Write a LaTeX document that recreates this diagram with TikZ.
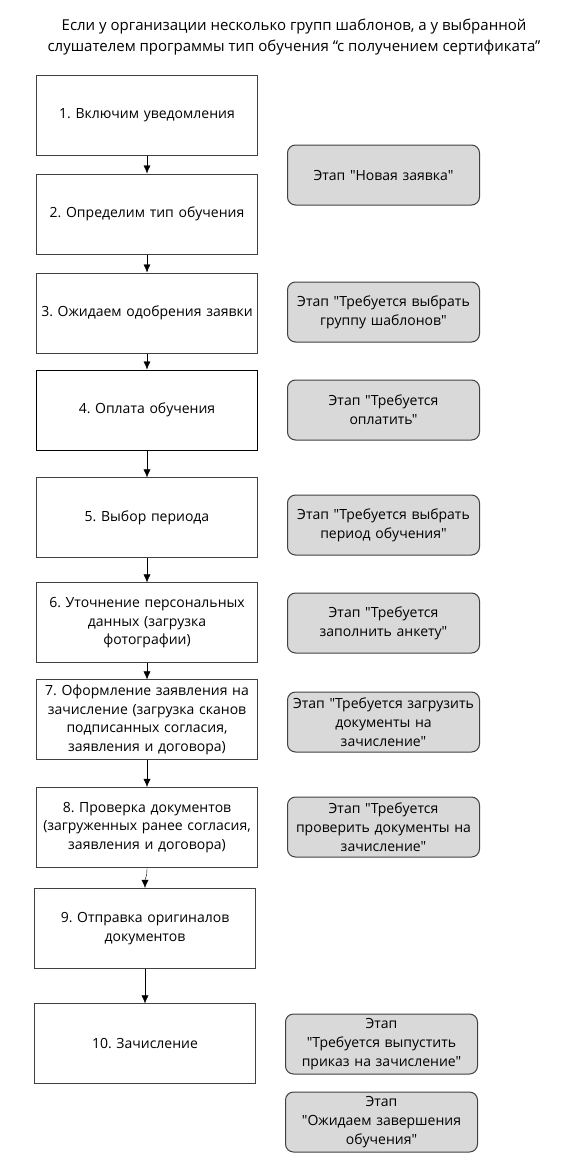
\documentclass[tikz,border=0pt]{standalone}
\usepackage{fontspec}
\setmainfont{Open Sans}[Ligatures=TeXOff]
\usepackage{xcolor}
\usepackage{tikz}
\usetikzlibrary{positioning}
\usetikzlibrary{arrows.meta}
\tikzset{>={Latex[width=7pt,length=8pt]}}
\definecolor{linegray}{HTML}{404040}
\definecolor{stagefill}{HTML}{D9D9D9}
\frenchspacing

\begin{document}
\begin{tikzpicture}[x=1pt, y=1pt, stepbox/.style={rectangle, draw=linegray, line width=1pt, fill=white, minimum width=221pt, minimum height=80pt, text width=214pt, inner xsep=3.5pt, align=center, font=\fontsize{14}{18.7}\selectfont}, paybox/.style={stepbox, draw=black, line width=1.4pt}, stage/.style={rectangle, rounded corners=8pt, draw=linegray, line width=1pt, fill=stagefill, minimum width=192pt, minimum height=60pt, text width=189pt, inner xsep=1.5pt, align=center, font=\fontsize{14}{18.7}\selectfont}]
    \useasboundingbox (0,0) rectangle (567,-1172);

    %Nodes
    \node[align=center, font=\fontsize{15}{20.3}\selectfont](title) at (294,-37){Если у организации несколько групп шаблонов, а у выбранной\\слушателем программы тип обучения “с получением сертификата”};
    \node[stepbox](b1) at (147,-115){1. Включим уведомления};
    \node[stepbox](b2)[below=18pt of b1]{2. Определим тип обучения};
    \node[stepbox](b3)[below=18pt of b2]{3. Ожидаем одобрения заявки};
    \node[paybox](b4)[below=16pt of b3]{4. Оплата обучения};
    \node[stepbox](b5)[below=26.5pt of b4]{5. Выбор периода};
    \node[stepbox](b6)[below=24pt of b5]{6. Уточнение персональных\\данных (загрузка\\фотографии)};
    \node[stepbox](b7)[below=16pt of b6]{7. Оформление заявления на\\зачисление (загрузка сканов\\подписанных согласия,\\заявления и договора)};
    \node[stepbox](b8)[below=26.5pt of b7]{8. Проверка документов\\(загруженных ранее согласия,\\заявления и договора)};
    \node[stepbox](b9)[below=20pt of b8, xshift=-2pt]{9. Отправка оригиналов\\документов};
    \node[stepbox](b10)[below=34.5pt of b9]{10. Зачисление};
    \node[stage](new_request)[right=29pt of b1, yshift=-60pt]{Этап "Новая заявка"};
    \node[stage](choose_group)[below=76pt of new_request]{Этап "Требуется выбрать\\группу шаблонов"};
    \node[stage](pay)[below=37pt of choose_group]{Этап "Требуется\\оплатить"};
    \node[stage](choose_period)[below=54pt of pay]{Этап "Требуется выбрать\\период обучения"};
    \node[stage](fill_form)[below=37pt of choose_period]{Этап "Требуется\\заполнить анкету"};
    \node[stage](upload_docs)[below=38pt of fill_form]{Этап "Требуется загрузить\\документы на\\зачисление"};
    \node[stage](check_docs)[below=44pt of upload_docs]{Этап "Требуется\\проверить документы на\\зачисление"};
    \node[stage](issue_order)[below=156pt of check_docs, xshift=-2pt]{Этап\\"Требуется выпустить\\приказ на зачисление"};
    \node[stage](wait_end)[below=17pt of issue_order]{Этап\\"Ожидаем завершения\\обучения"};

    %Lines
    \draw[->] (b1.south) -- (b2.north);
    \draw[->] (b2.south) -- (b3.north);
    \draw[->] (b3.south) -- (b4.north);
    \draw[->] (b4.south) -- (b5.north);
    \draw[->] (b5.south) -- (b6.north);
    \draw[->] (b6.south) -- (b7.north);
    \draw[->] (b7.south) -- (b8.north);
    \draw[->] (b8.south) .. controls +(0,-12) and +(0,12) .. (b9.north);
    \draw[->] (b9.south) -- (b10.north);
\end{tikzpicture}
\end{document}
